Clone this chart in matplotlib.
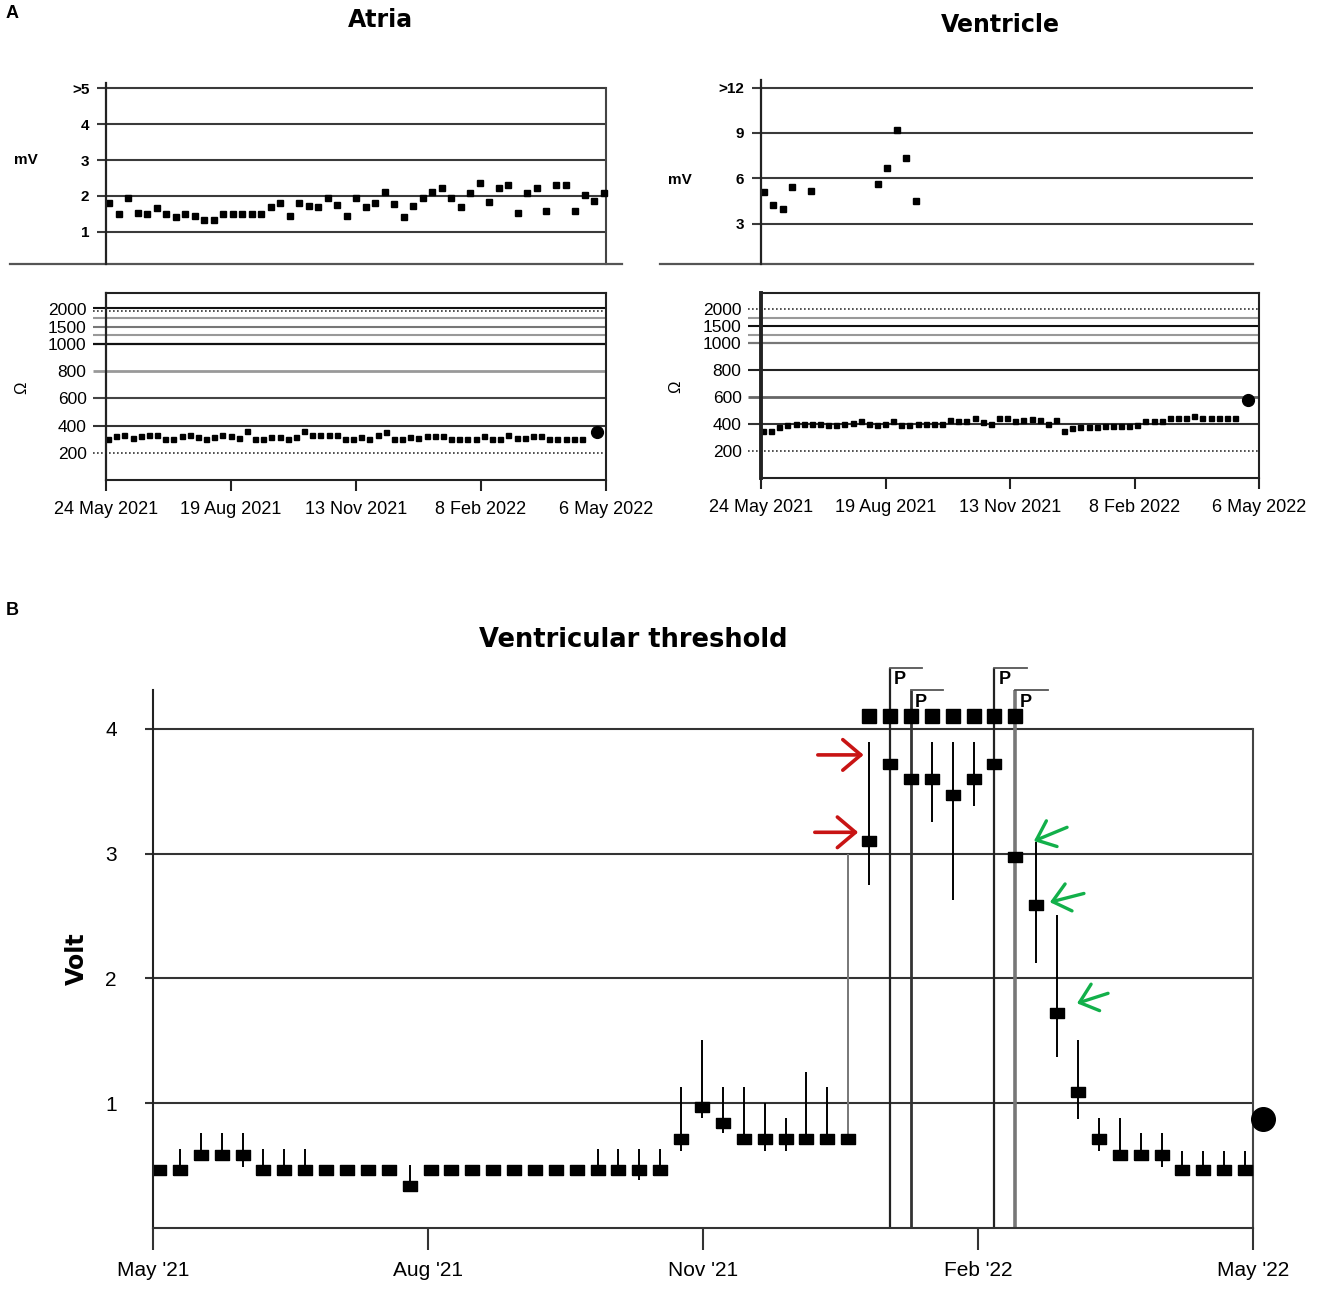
import numpy as np
import matplotlib
matplotlib.use("Agg")
import matplotlib.pyplot as plt
from matplotlib.path import Path

plt.rcParams['font.family'] = ['Liberation Sans', 'DejaVu Sans']

# ------------------------------
# Panel A data (home monitoring trends)
# ------------------------------
TOP_TICK_DAYS = [0, 86.75, 173.5, 260.25, 347]
TOP_TICK_LABELS = ["24 May 2021", "19 Aug 2021", "13 Nov 2021", "8 Feb 2022", "6 May 2022"]

# sensing amplitude readings (mV), one every ~6.6 days
MV_FIRST_DAY = 2.1
MV_STEP_DAYS = 6.6
ATRIA_MV = [1.81, 1.49, 1.95, 1.54, 1.49, 1.66, 1.50, 1.41, 1.50, 1.45,
            1.33, 1.33, 1.50, 1.50, 1.50, 1.50, 1.50, 1.70, 1.80, 1.45,
            1.81, 1.72, 1.70, 1.95, 1.75, 1.45, 1.94, 1.70, 1.81, 2.12,
            1.78, 1.43, 1.73, 1.95, 2.12, 2.21, 1.95, 1.70, 2.07, 2.35,
            1.84, 2.21, 2.31, 1.54, 2.07, 2.21, 1.59, 2.31, 2.31, 1.59,
            2.04, 1.86, 2.09]
VENT_MV_IDX = [0, 1, 2, 3, 5, 12, 13, 14, 15, 16]
VENT_MV = [5.12, 4.26, 3.99, 5.45, 5.14, 5.63, 6.69, 9.16, 7.33, 4.50]

# lead impedance readings (ohm), one every ~5.7 days
OHM_FIRST_DAY = 1.4
OHM_STEP_DAYS = 5.67
ATRIA_OHM = [305, 324, 333, 310, 324, 329, 333, 305, 305, 324,
             333, 317, 305, 317, 329, 324, 310, 357, 305, 305,
             319, 319, 305, 319, 357, 329, 333, 333, 333, 305,
             300, 317, 305, 329, 352, 305, 305, 319, 310, 324,
             324, 324, 305, 305, 305, 305, 324, 305, 300, 333,
             310, 310, 324, 324, 300, 300, 300, 300, 305]
ATRIA_OHM_LAST_DAY = 340.7
ATRIA_OHM_LAST = 352
VENT_OHM = [352, 352, 376, 393, 400, 405, 405, 400, 393, 393,
            400, 412, 424, 405, 393, 400, 424, 393, 393, 400,
            400, 400, 400, 431, 424, 424, 443, 417, 400, 448,
            448, 424, 429, 436, 429, 405, 429, 352, 369, 381,
            381, 381, 388, 388, 388, 388, 393, 424, 424, 424,
            448, 448, 448, 460, 443, 443, 443, 443, 443]
VENT_OHM_LAST_DAY = 339.0
VENT_OHM_LAST = 580

# ------------------------------
# Panel B data (weekly ventricular threshold)
# ------------------------------
B_TICK_DAYS = [0, 91.25, 182.5, 273.75, 365]
B_TICK_LABELS = ["May '21", "Aug '21", "Nov '21", "Feb '22", "May '22"]
B_FIRST_DAY = 2.0
B_STEP_DAYS = 6.93
THRESH = [0.465, 0.465, 0.585, 0.585, 0.585, 0.465, 0.465, 0.465, 0.465, 0.465,
          0.465, 0.465, 0.34, 0.465, 0.465, 0.465, 0.465, 0.465, 0.465, 0.465,
          0.465, 0.465, 0.465, 0.465, 0.465, 0.71, 0.97, 0.84, 0.71, 0.71,
          0.71, 0.71, 0.71, 0.71, 3.10, 3.72, 3.60, 3.60, 3.47, 3.60,
          3.72, 2.97, 2.59, 1.72, 1.09, 0.71, 0.585, 0.585, 0.585, 0.465,
          0.465, 0.465, 0.465]
THRESH_HI = [None, 0.63, 0.76, 0.76, 0.76, 0.63, 0.63, 0.63, None, None,
             None, None, 0.505, None, None, None, None, None, None, None,
             None, 0.63, 0.63, 0.63, 0.63, 1.13, 1.51, 1.13, 1.13, 1.00,
             0.88, 1.25, 1.13, 3.00, 3.89, None, None, 3.89, 3.89, 3.89,
             None, None, 3.09, 2.51, 1.51, 0.88, 0.88, 0.76, 0.76, 0.62,
             0.62, 0.62, 0.62]
THRESH_LO = [None, None, None, None, 0.49, None, None, None, None, None,
             None, None, None, None, None, None, None, None, None, None,
             None, None, None, 0.385, None, 0.62, 0.88, 0.76, None, 0.62,
             0.62, None, None, None, 2.75, None, None, 3.25, 2.63, 3.38,
             None, None, 2.12, 1.37, 0.87, 0.62, None, None, 0.49, None,
             None, None, None]
SAT_IDX = [34, 35, 36, 37, 38, 39, 40, 41]
SAT_LEVEL = 4.1
P_IDX = [35, 36, 40, 41]
P_TOP = [4.49, 4.31, 4.49, 4.31]
LAST_DAY = 368.3
LAST_VALUE = 0.87

# ------------------------------
# Figure helpers
# ------------------------------
W, H = 1325, 1301
fig = plt.figure(figsize=(W / 100, H / 100), dpi=100)


def px_axes(left, top, right, bottom):
    return fig.add_axes([left / W, 1 - bottom / H, (right - left) / W, (bottom - top) / H])


def hline(ax, y, x0, x1, **kw):
    ax.plot([x0, x1], [y, y], transform=ax.get_yaxis_transform(), clip_on=False,
            solid_capstyle='butt', **kw)


def ohm_fwd(v):
    v = np.asarray(v, float)
    return np.where(v <= 1000, v, 1000 + (v - 1000) * 0.257)


def ohm_inv(u):
    u = np.asarray(u, float)
    return np.where(u <= 1000, u, 1000 + (u - 1000) / 0.257)


GRID = '#3a3a3a'
DOT = (0, (1, 1.4))

# ------------------------------
# mV panels
# ------------------------------
mv_days = MV_FIRST_DAY + MV_STEP_DAYS * np.arange(len(ATRIA_MV))

ax = px_axes(106, 83, 606, 264)
ax.set_xlim(0, 347)
ax.set_ylim(0.11, 5.14)
for s in ['top', 'right', 'bottom']:
    ax.spines[s].set_visible(False)
ax.spines['left'].set_linewidth(1.6)
ax.spines['left'].set_color('#222')
for y in [1, 2, 3, 4, 5]:
    hline(ax, y, -0.018, 1.0, color=GRID, lw=1.5)
ax.plot([1, 1], [5, 0.11], transform=ax.get_yaxis_transform(), clip_on=False, color='#444', lw=1.5)
ax.plot([-0.192, 1.032], [0, 0], transform=ax.transAxes, clip_on=False, color='#555', lw=1.6)
ax.plot(mv_days, ATRIA_MV, 's', color='black', ms=4.0, clip_on=False)
ax.set_xticks([])
ax.set_yticks([1, 2, 3, 4, 5], ['1', '2', '3', '4', '>5'])
ax.tick_params(axis='y', length=0, pad=12, labelsize=11)
for t in ax.get_yticklabels():
    t.set_fontweight('bold')

ax = px_axes(761, 80, 1259, 264)
ax.set_xlim(0, 347)
ax.set_ylim(0.33, 12.5)
for s in ['top', 'right', 'bottom']:
    ax.spines[s].set_visible(False)
ax.spines['left'].set_linewidth(1.6)
ax.spines['left'].set_color('#222')
for y in [3, 6, 9, 12]:
    hline(ax, y, -0.018, 0.988, color=GRID, lw=1.5)
ax.plot([-0.203, 0.988], [0, 0], transform=ax.transAxes, clip_on=False, color='#555', lw=1.6)
ax.plot(mv_days[VENT_MV_IDX], VENT_MV, 's', color='black', ms=4.0)
ax.set_xticks([])
ax.set_yticks([3, 6, 9, 12], ['3', '6', '9', '>12'])
ax.tick_params(axis='y', length=0, pad=12, labelsize=11)
for t in ax.get_yticklabels():
    t.set_fontweight('bold')

fig.text(26 / W, 1 - 160 / H, 'mV', ha='center', va='center', fontsize=11, fontweight='bold')
fig.text(680 / W, 1 - 180 / H, 'mV', ha='center', va='center', fontsize=11, fontweight='bold')

# ------------------------------
# Impedance panels
# ------------------------------
ohm_days = OHM_FIRST_DAY + OHM_STEP_DAYS * np.arange(len(ATRIA_OHM))

atria_grid = [(2025, '#111', 1.5, '-'), (1945, '#333', 1.2, DOT), (1750, '#999', 1.5, '-'),
              (1500, '#777', 1.5, '-'), (1250, '#999', 1.5, '-'), (1000, '#111', 1.6, '-'),
              (800, '#999', 2.0, '-'), (600, '#444', 1.5, '-'), (400, '#333', 1.5, '-'),
              (200, '#333', 1.2, DOT)]
vent_grid = [(2000, '#333', 1.2, DOT), (1750, '#999', 1.5, '-'), (1500, '#111', 1.5, '-'),
             (1250, '#999', 1.5, '-'), (1000, '#777', 1.6, '-'), (800, '#222', 1.5, '-'),
             (600, '#666', 2.0, '-'), (400, '#333', 1.5, '-'), (200, '#333', 1.2, DOT)]

panels = [
    ((106, 293, 606, 480), ohm_days, ATRIA_OHM, ATRIA_OHM_LAST_DAY, ATRIA_OHM_LAST, atria_grid, -0.026, 1.6, (22, 388)),
    ((761, 293, 1259, 478), ohm_days, VENT_OHM, VENT_OHM_LAST_DAY, VENT_OHM_LAST, vent_grid, -0.026, 2.8, (676, 387)),
]
for box, days, vals, last_day, last_val, grid, gx0, left_lw, lab in panels:
    ax = px_axes(*box)
    ax.set_yscale('function', functions=(ohm_fwd, ohm_inv))
    ax.set_xlim(0, 347)
    ax.set_ylim(0, 2460)
    for s in ax.spines.values():
        s.set_linewidth(1.5)
        s.set_color('#222')
    ax.spines['left'].set_linewidth(left_lw)
    for y, c, lw, ls in grid:
        hline(ax, y, gx0, 1.0, color=c, lw=lw, linestyle=ls)
    ax.plot(days, vals, 's', color='black', ms=3.6)
    ax.plot([last_day], [last_val], 'o', color='black', ms=8.5, clip_on=False)
    ax.set_yticks([200, 400, 600, 800, 1000, 1500, 2000],
                  ['200', '400', '600', '800', '1000', '1500', '2000'])
    ax.yaxis.set_minor_locator(matplotlib.ticker.NullLocator())
    ax.tick_params(axis='y', length=0, pad=14, labelsize=12.5)
    ax.set_xticks(TOP_TICK_DAYS, TOP_TICK_LABELS)
    ax.tick_params(axis='x', direction='out', length=8, width=1.5, color='#222', pad=7, labelsize=13)
    fig.text(lab[0] / W, 1 - lab[1] / H, '\u03a9', ha='center', va='center', rotation=90, fontsize=12)

# ------------------------------
# Panel B
# ------------------------------
b_days = B_FIRST_DAY + B_STEP_DAYS * np.arange(len(THRESH))
thr = np.array(THRESH, float)
hi = np.array(THRESH_HI, dtype=float)
lo = np.array(THRESH_LO, dtype=float)

ax = px_axes(153, 690, 1253, 1228)
ax.set_xlim(0, 365)
ax.set_ylim(0, 4.31)
ax.spines['top'].set_visible(False)
ax.spines['right'].set_visible(False)
ax.spines['left'].set_linewidth(1.5)
ax.spines['bottom'].set_linewidth(1.5)
ax.spines['left'].set_color('#222')
ax.spines['bottom'].set_color('#333')
for y in [1, 2, 3, 4]:
    hline(ax, y, -0.0073, 1.0, color='#333', lw=1.5)
ax.plot([365, 365], [4, 0], color='#444', lw=1.5, clip_on=False)

top = np.where(np.isnan(hi), thr, hi)
bot = np.where(np.isnan(lo), thr, lo)
whisk_col = ['#777' if i == 33 else 'black' for i in range(len(thr))]
ax.vlines(b_days, bot, top, colors=whisk_col, lw=1.4)

# pacing-related lines with "P" flags
p_styles = [('#222', 1.6), ('#333', 2.0), ('#222', 1.6), ('#777', 2.6)]
for (idx, ptop), (col, lw) in zip(zip(P_IDX, P_TOP), p_styles):
    d = b_days[idx]
    ax.plot([d, d], [0, ptop], color=col, lw=lw, clip_on=False, solid_capstyle='butt')
    ax.plot([d, d + 1.55 * B_STEP_DAYS], [ptop, ptop], color='#555', lw=1.3, clip_on=False)
    ax.text(d + 0.2 * B_STEP_DAYS, ptop - 0.03, 'P', ha='left', va='top', fontsize=13,
            fontweight='bold', clip_on=False)

rect = Path([(-0.65, -0.5), (0.65, -0.5), (0.65, 0.5), (-0.65, 0.5), (-0.65, -0.5)])
ax.plot(b_days, thr, linestyle='none', marker=rect, color='black', ms=9.5)
ax.plot(b_days[SAT_IDX], [SAT_LEVEL] * len(SAT_IDX), 's', color='black', ms=10.5)
ax.plot([LAST_DAY], [LAST_VALUE], 'o', color='black', ms=17, clip_on=False)

red_arrows = [((220.6, 3.79), (235.8, 3.79)), ((219.6, 3.17), (234.0, 3.17))]
green_arrows = [((303.3, 3.21), (292.3, 3.10)), ((308.9, 2.68), (297.6, 2.61)),
                ((316.9, 1.88), (306.6, 1.80))]
for tail, head in red_arrows:
    ax.annotate('', xy=head, xytext=tail,
                arrowprops=dict(arrowstyle='->,head_length=0.65,head_width=0.55',
                                color='#c81414', lw=2.6, mutation_scale=20,
                                shrinkA=0, shrinkB=0))
for tail, head in green_arrows:
    ax.annotate('', xy=head, xytext=tail,
                arrowprops=dict(arrowstyle='->,head_length=0.6,head_width=0.5',
                                color='#12b04a', lw=2.4, mutation_scale=20,
                                shrinkA=0, shrinkB=0))

ax.set_xticks(B_TICK_DAYS, B_TICK_LABELS)
ax.tick_params(axis='x', direction='out', length=16, width=1.5, color='#333', pad=8, labelsize=15)
ax.set_yticks([1, 2, 3, 4], ['1', '2', '3', '4'])
ax.tick_params(axis='y', length=0, pad=26, labelsize=15)
ax.set_ylabel('Volt', fontsize=17, fontweight='bold', family='DejaVu Sans', labelpad=12)

# ------------------------------
# Titles and panel letters
# ------------------------------
fig.text(12 / W, 1 - 14 / H, 'A', ha='center', va='center', fontsize=13, fontweight='bold')
fig.text(12 / W, 1 - 611 / H, 'B', ha='center', va='center', fontsize=13, fontweight='bold')
fig.text(380 / W, 1 - 20 / H, 'Atria', ha='center', va='center', fontsize=17,
         fontweight='bold', family='DejaVu Sans')
fig.text(1000 / W, 1 - 25 / H, 'Ventricle', ha='center', va='center', fontsize=17,
         fontweight='bold', family='DejaVu Sans')
fig.text(633 / W, 1 - 640 / H, 'Ventricular threshold', ha='center', va='center', fontsize=18.5,
         fontweight='bold', family='DejaVu Sans')

fig.savefig('out.png', dpi=100)
